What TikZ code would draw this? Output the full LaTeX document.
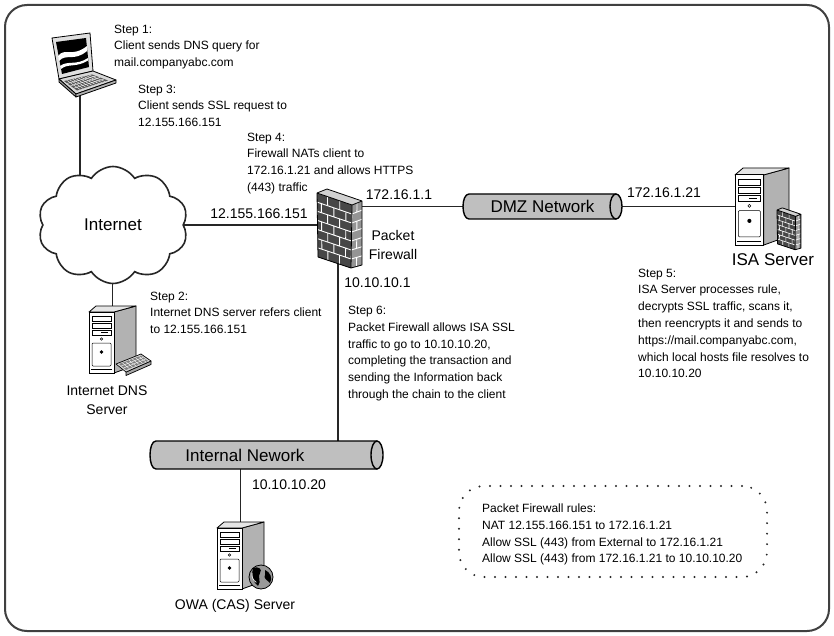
\documentclass[tikz,border=0pt]{standalone}
\usepackage{fontspec}
\setmainfont{Liberation Sans}
\usetikzlibrary{calc,shapes.symbols}
\pgfdeclarelayer{bg}
\pgfdeclarelayer{mid}
\pgfsetlayers{bg,mid,main}

% horizontal courses and staggered joints on a quadrilateral face
% #1 top-left, #2 top-right, #3 bottom-right, #4 bottom-left, #5 courses,
% #6 joint positions on odd courses, #7 joint positions on even courses
\newcommand\bricklines[7]{%
  \foreach \i in {1,...,#5}{%
    \pgfmathsetmacro\bta{(\i-1)/#5}%
    \pgfmathsetmacro\btb{\i/#5}%
    \ifnum\i<#5\relax
      \draw ($(#1)!\btb!(#4)$) -- ($(#2)!\btb!(#3)$);
    \fi
    \ifodd\i\relax
      \foreach \s in {#6}{\draw ($($(#1)!\bta!(#4)$)!\s!($(#2)!\bta!(#3)$)$) -- ($($(#1)!\btb!(#4)$)!\s!($(#2)!\btb!(#3)$)$);}%
    \else
      \foreach \s in {#7}{\draw ($($(#1)!\bta!(#4)$)!\s!($(#2)!\bta!(#3)$)$) -- ($($(#1)!\btb!(#4)$)!\s!($(#2)!\btb!(#3)$)$);}%
    \fi
  }%
}

\tikzset{
  link/.style={line width=1.8pt, draw=black!85},
  note/.style={anchor=north west, align=left, inner sep=0pt, font=\fontsize{12}{16.8}\selectfont},
  addr/.style={inner sep=0pt, align=center, font=\fontsize{14}{19.5}\selectfont},
  biglabel/.style={inner sep=0pt, font=\fontsize{17}{20}\selectfont},
  hitbox/.style={inner sep=0pt, outer sep=0pt, draw=none, rectangle},
  pipe/.style={fill=black!25, draw=black, line width=1.4pt, line join=round},
  brick joint/.store in=\brickjoint, brick joint=0.9pt,
  % tower server, origin at the top-left corner of its front panel
  tower/.pic={
    \draw[fill=black!30, line width=0.8pt, line join=round] (25,0) -- (47,-6) -- (47,53) -- (25,61) -- cycle;
    \draw[fill=black!10, line width=0.8pt, line join=round] (0,0) -- (7,-6) -- (47,-6) -- (25,0) -- cycle;
    \draw[fill=white, line width=0.8pt] (0,0) rectangle (25,61);
    \draw[line width=0.5pt] (3,4) rectangle (22,9) (3,11) rectangle (22,16) (3,18) rectangle (22,23);
    \draw[line width=1.2pt] (12,20.5) -- (19,20.5);
    \draw[line width=0.5pt] (12.5,27) circle[radius=1.3];
    \draw[line width=0.5pt, rounded corners=1pt] (3,31) rectangle (22,54);
    \fill (12.5,40) circle[radius=1.8];
    \draw[line width=0.5pt] (2,57.5) -- (23,57.5);
  },
  % brick wall block, origin at the top-left corner of its front face
  brickwall/.pic={
    \coordinate (bwA) at (0,0);
    \coordinate (bwB) at (35,12);
    \coordinate (bwC) at (34,75);
    \coordinate (bwD) at (1,64);
    \coordinate (bwE) at (45,8);
    \coordinate (bwF) at (45,72);
    \coordinate (bwG) at (10,-4);
    \fill[black!72] (bwA) -- (bwB) -- (bwC) -- (bwD) -- cycle;
    \fill[black!42] (bwB) -- (bwE) -- (bwF) -- (bwC) -- cycle;
    \fill[black!18] (bwA) -- (bwG) -- (bwE) -- (bwB) -- cycle;
    \begin{scope}[white, line width=\brickjoint]
      \bricklines{bwA}{bwB}{bwC}{bwD}{7}{0.3,0.65}{0.12,0.48,0.83}
      \bricklines{bwB}{bwE}{bwF}{bwC}{7}{0.5}{0}
    \end{scope}
    \draw[line width=0.8pt, line join=round] (bwA) -- (bwG) -- (bwE) -- (bwF) -- (bwC) -- (bwD) -- cycle
      (bwA) -- (bwB) -- (bwC) (bwB) -- (bwE);
  },
}

\begin{document}
\begin{tikzpicture}[x=1pt,y=-1pt]
\useasboundingbox (0,0) rectangle (834,636);
\begin{pgfonlayer}{bg}
  \fill[white] (0,0) rectangle (834,636);
\end{pgfonlayer}

% outer frame
\draw[line width=2pt, black!75, rounded corners=22pt] (5,5) rectangle (829,631);

% ---------- named places ----------
\coordinate (lapport) at (80,90);
\node[hitbox, minimum width=45pt, minimum height=80pt] (fw) at (338,229) {};
\node[hitbox, minimum width=159pt, minimum height=25pt, biglabel] (dmz) at (542.5,206.5) {DMZ Network};
\node[hitbox, minimum width=233pt, minimum height=28pt] (lan) at (266.5,455) {};
\node[hitbox, minimum width=54pt, minimum height=77pt] (isa) at (762,206.5) {};
\node[hitbox, minimum width=47pt, minimum height=67pt] (dns) at (112.5,339.5) {};
\node[hitbox, minimum width=47pt, minimum height=67pt] (owa) at (240.5,555.5) {};

% ---------- devices ----------
\begin{pgfonlayer}{mid}
  % Internet cloud
  \node[cloud, cloud puffs=10, cloud puff arc=115, aspect=1.3, draw=black!85, line width=1.6pt,
        fill=white, minimum width=150pt, minimum height=117pt, inner sep=0pt,
        font=\fontsize{17}{20}\selectfont] (cloud) at (113,225) {Internet};

  % laptop
  \draw[fill=black!12, line width=0.8pt, line join=round] (52,38) -- (90,33) -- (93,71) -- (59,79) -- cycle;
  \fill[black] (56,42) -- (86,38) -- (89,67) -- (62,74) -- cycle;
  \fill[white] (58,56) .. controls (65,47) and (72,58) .. (87,46) -- (87,51) .. controls (74,62) and (66,53) .. (59,61) -- cycle;
  \fill[white] (60,66) .. controls (68,60) and (76,66) .. (88,58) -- (88,60.5) .. controls (76,68) and (68,63) .. (61,69) -- cycle;
  \draw[fill=black!15, line width=0.8pt, line join=round] (59,79) -- (93,71) -- (116,80) -- (76,94) -- cycle;
  \draw[fill=black!40, line width=0.8pt, line join=round] (59,79) -- (76,94) -- (76,97) -- (59,82) -- cycle;
  \draw[fill=black!30, line width=0.8pt, line join=round] (76,94) -- (116,80) -- (116,83) -- (76,97) -- cycle;
  \fill[black!65] (64,81) -- (92,74.5) -- (108,80.5) -- (77,90.5) -- cycle;
  \foreach \t in {0.25,0.5,0.75}
    \draw[white, line width=0.4pt] ($(64,81)!\t!(77,90.5)$) -- ($(92,74.5)!\t!(108,80.5)$);
  \foreach \t in {0.1,0.2,0.3,0.4,0.5,0.6,0.7,0.8,0.9}
    \draw[white, line width=0.4pt] ($(64,81)!\t!(92,74.5)$) -- ($(77,90.5)!\t!(108,80.5)$);

  % packet firewall
  \pic at (317,193) {brickwall};

  % network segments
  \draw[pipe] ($(dmz.north east)+(-6,0)$) -- ($(dmz.north west)+(6,0)$)
     .. controls ($(dmz.north west)+(-2,0)$) and ($(dmz.south west)+(-2,0)$) .. ($(dmz.south west)+(6,0)$)
     -- ($(dmz.south east)+(-6,0)$) -- cycle;
  \draw[pipe] ($(dmz.east)+(-6,0)$) ellipse [x radius=6, y radius=12.5];
  \draw[pipe] ($(lan.north east)+(-6,0)$) -- ($(lan.north west)+(6,0)$)
     .. controls ($(lan.north west)+(-2,0)$) and ($(lan.south west)+(-2,0)$) .. ($(lan.south west)+(6,0)$)
     -- ($(lan.south east)+(-6,0)$) -- cycle;
  \draw[pipe] ($(lan.east)+(-6,0)$) ellipse [x radius=6, y radius=14];

  % ISA server with its firewall
  \pic[scale=1.15] at ($(isa.north west)+(0,6.9)$) {tower};
  \pic[scale=0.53, brick joint=0.6pt] at (777,210) {brickwall};

  % Internet DNS server with keyboard
  \pic at ($(dns.north west)+(0,6)$) {tower};
  \draw[fill=black!35, line width=0.7pt, line join=round] (126,372) -- (151,361) -- (151,364.5) -- (126,375.5) -- cycle;
  \draw[fill=black!15, line width=0.7pt, line join=round] (116,364) -- (141,354) -- (151,361) -- (126,372) -- cycle;
  \fill[black!50] (119,364) -- (141,355.5) -- (148,361) -- (126,370) -- cycle;
  \foreach \t in {0.33,0.66}
    \draw[white, line width=0.4pt] ($(119,364)!\t!(126,370)$) -- ($(141,355.5)!\t!(148,361)$);
  \foreach \t in {0.15,0.3,0.45,0.6,0.75,0.9}
    \draw[white, line width=0.4pt] ($(119,364)!\t!(141,355.5)$) -- ($(126,370)!\t!(148,361)$);

  % OWA server with globe
  \pic at ($(owa.north west)+(0,6)$) {tower};
  \draw[fill=black!40, line width=0.8pt] (261,577) circle[radius=12];
  \fill[black] (253,568) .. controls (258,566) and (263,569) .. (260,573)
       .. controls (257,577) and (262,581) .. (258,586) .. controls (253,583) and (251,574) .. cycle;
  \fill[black] (265,570) .. controls (270,572) and (273,578) .. (270,583)
       .. controls (267,580) and (263,578) .. (265,575) -- cycle;
  \draw[black!10, line width=0.8pt] (252,573) arc[start angle=190, end angle=120, radius=9];
\end{pgfonlayer}

% ---------- connections ----------
\begin{pgfonlayer}{bg}
  \draw[link] (lapport) -- (lapport |- cloud.center);
  \draw[link] (cloud.center) -- (cloud.center -| fw.center);
  \draw[link] (cloud.center -| dns.center) -- (dns.center);
  \draw[link] (dmz.center -| fw.center) -- (dmz.center);
  \draw[link] (dmz.center) -- (dmz.center -| isa.center);
  \draw[link] (fw.center) -- (fw.center |- lan.center);
  \draw[link] (lan.center -| owa.center) -- (owa.center);
\end{pgfonlayer}

% ---------- labels ----------
\node[addr] (ipext) at (259,214) {12.155.166.151};
\node[addr] (ipdmzgw) at (399,195) {172.16.1.1};
\node[addr] (fwname) at (393,245) {Packet\\Firewall};
\node[addr] (ipintgw) at (377.5,283) {10.10.10.1};
\node[addr] (ipisa) at (664,193) {172.16.1.21};
\node[biglabel] (isaname) at (773,260) {ISA Server};
\node[biglabel] (lanname) at (245,455) {Internal Nework};
\node[addr] (ipowa) at (289,485) {10.10.10.20};
\node[addr] (owaname) at (235,606) {OWA (CAS) Server};
\node[addr] (dnsname) at (107,400) {Internet DNS\\Server};

% ---------- step notes ----------
\node[note] (step1) at (114,24.5) {Step 1:\\Client sends DNS query for\\mail.companyabc.com};
\node[note] (step3) at (138,84.5) {Step 3:\\Client sends SSL request to\\12.155.166.151};
\node[note] (step4) at (247,132.5) {Step 4:\\Firewall NATs client to\\172.16.1.21 and allows HTTPS\\(443) traffic};
\node[note] (step2) at (150,291.5) {Step 2:\\Internet DNS server refers client\\to 12.155.166.151};
\node[note] (step5) at (638,268.5) {Step 5:\\ISA Server processes rule,\\decrypts SSL traffic, scans it,\\then reencrypts it and sends to\\https://mail.companyabc.com,\\which local hosts file resolves to\\10.10.10.20};
\node[note] (step6) at (348,306) {Step 6:\\Packet Firewall allows ISA SSL\\traffic to go to 10.10.10.20,\\completing the transaction and\\sending the Information back\\through the chain to the client};

% ---------- firewall rule summary ----------
\node[hitbox, draw=black!85, line width=2.2pt, line cap=round, dash pattern=on 0pt off 10.5pt,
      rounded corners=25pt, minimum width=308pt, minimum height=91pt] (rulesbox) at (613,531.5) {};
\node[note] (rules) at (482,503.5) {Packet Firewall rules:\\NAT 12.155.166.151 to 172.16.1.21\\Allow SSL (443) from External to 172.16.1.21\\Allow SSL (443) from 172.16.1.21 to 10.10.10.20};
\end{tikzpicture}
\end{document}
